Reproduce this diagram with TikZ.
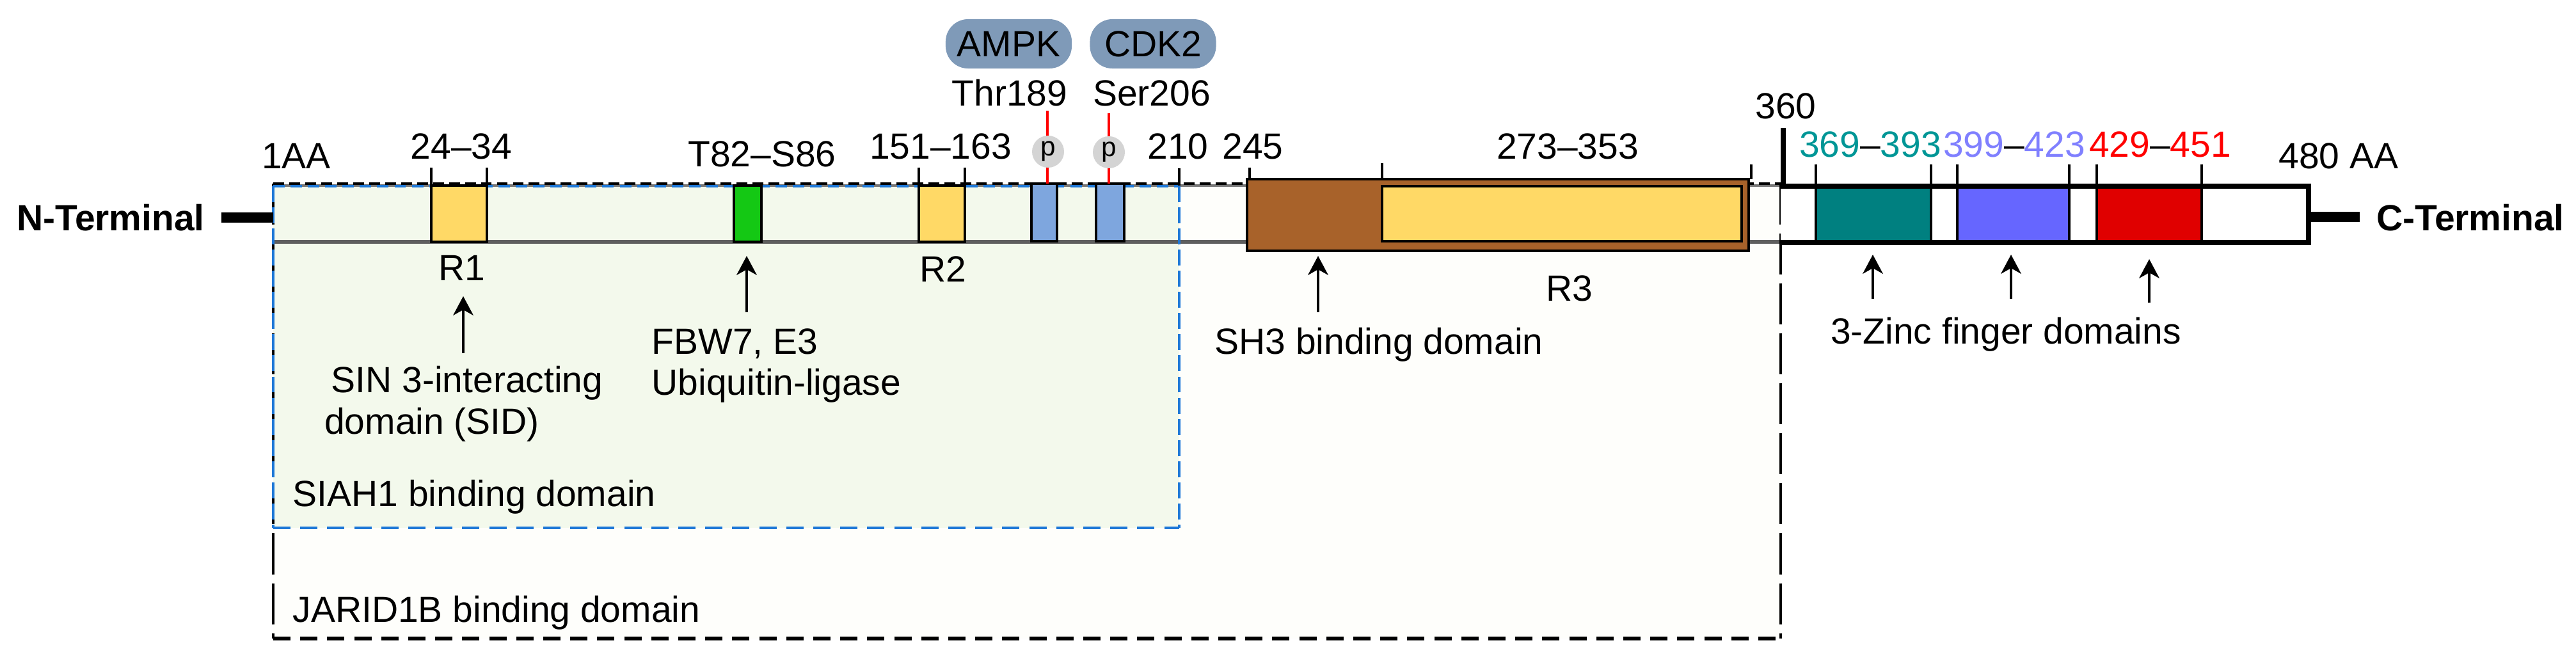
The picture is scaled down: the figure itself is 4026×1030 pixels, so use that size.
\documentclass[tikz,border=0pt]{standalone}
\usepackage{fontspec}
\setmainfont{Liberation Sans}
\usetikzlibrary{arrows.meta}
\definecolor{jarfill}{RGB}{254,254,251}
\definecolor{siahfill}{RGB}{243,249,236}
\definecolor{siahblue}{RGB}{30,120,215}
\definecolor{bargray}{RGB}{95,95,95}
\definecolor{bartop}{RGB}{120,120,120}
\definecolor{yel}{RGB}{255,217,102}
\definecolor{grn}{RGB}{20,200,20}
\definecolor{lblue}{RGB}{126,166,222}
\definecolor{brn}{RGB}{168,98,42}
\definecolor{tealbox}{RGB}{0,128,128}
\definecolor{tealtxt}{RGB}{0,150,150}
\definecolor{purbox}{RGB}{102,102,255}
\definecolor{purtxt}{RGB}{128,128,255}
\definecolor{redbox}{RGB}{224,0,0}
\definecolor{redtxt}{RGB}{255,0,0}
\definecolor{pillc}{RGB}{127,154,184}
\definecolor{pgray}{RGB}{212,212,212}
\begin{document}
\begin{tikzpicture}[x=0.01cm,y=-0.01cm,
  every node/.style={inner sep=0pt},
  lbl/.style={font=\fontsize{16.2}{19}\selectfont, anchor=base},
  lblw/.style={font=\fontsize{16.2}{19}\selectfont, anchor=base west},
  boldlbl/.style={font=\fontsize{16.2}{19}\selectfont\bfseries, anchor=base},
  tickl/.style={line width=1.4pt},
  arr/.style={line width=1.1pt, -{Stealth[length=8.5pt,width=9pt,inset=2.5pt]}},
  dom/.style={draw=black, line width=1.3pt},
  pill/.style={fill=pillc, rounded corners=0.35cm, minimum width=1.97cm, minimum height=0.77cm, font=\fontsize{16.2}{19}\selectfont},
  pcirc/.style={circle, fill=pgray, minimum size=0.5cm, font=\fontsize{12}{14}\selectfont},
  redl/.style={draw=red, line width=1.1pt},
  termline/.style={line width=4.3pt},
  jarh/.style={line width=1.1pt, dash pattern=on 4.8pt off 2.3pt},
  jarb/.style={line width=1.7pt, dash pattern=on 7.7pt off 4.3pt},
  jarv/.style={line width=1.1pt, dash pattern=on 18.2pt off 4pt},
  siahh/.style={draw=siahblue, line width=1.1pt, dash pattern=on 5.1pt off 2.6pt},
  siahb/.style={draw=siahblue, line width=1.4pt, dash pattern=on 7.7pt off 4.3pt},
  siahv/.style={draw=siahblue, line width=1.1pt, dash pattern=on 7.1pt off 2.3pt}
]
\useasboundingbox (0,0) rectangle (4026,1030);
% background regions
\fill[jarfill] (427,287) rectangle (2783,998);
\fill[siahfill] (427,291) rectangle (1843,825);
% main bar lines
\draw[bartop, line width=1.1pt] (427,290) -- (2783,290);
\draw[bargray, line width=1.8pt] (427,378) -- (2783,378);
% JARID1B dashed box
\draw[jarh] (427,287) -- (2783,287);
\draw[jarb] (427,998) -- (2783,998);
\draw[jarv] (427,287) -- (427,998);
\draw[jarv] (2783,287) -- (2783,998);
% SIAH1 dashed box
\draw[siahh] (427,291) -- (1843,291);
\draw[siahb] (427,825) -- (1843,825);
\draw[siahv] (427,291) -- (427,825);
\draw[siahv] (1843,291) -- (1843,825);
% terminal lines
\coordinate (nl) at (346,340);
\coordinate (nr) at (427,340);
\draw[termline] (nl) -- (nr);
\coordinate (cl) at (3608,339);
\coordinate (cr) at (3688,339);
\draw[termline] (cl) -- (cr);
% domain boxes left part
\draw[dom, fill=yel] (674,290) rectangle (761,378);
\draw[dom, fill=grn] (1147,290) rectangle (1190,378);
\draw[dom, fill=yel] (1436,290) rectangle (1508,378);
\draw[dom, fill=lblue] (1612,287) rectangle (1652,377);
\draw[dom, fill=lblue] (1713,287) rectangle (1757,377);
% ticks
\draw[tickl] (674,262) -- (674,290);
\draw[tickl] (761,262) -- (761,290);
\draw[tickl] (1436,262) -- (1436,290);
\draw[tickl] (1508,262) -- (1508,290);
\draw[tickl] (1843,263) -- (1843,290);
\draw[tickl] (1953,262) -- (1953,280);
\draw[tickl] (2160,255) -- (2160,280);
\draw[tickl] (2737,257) -- (2737,280);
% brown SH3 / R3 box
\draw[dom, fill=brn] (1949,280) rectangle (2733,392);
\draw[dom, fill=yel] (2160,291) rectangle (2722,377);
% right box
\fill[white] (2783,291) rectangle (3608,379);
\draw[dom, fill=tealbox] (2838,291) rectangle (3018,379);
\draw[dom, fill=purbox] (3059,291) rectangle (3234,379);
\draw[dom, fill=redbox] (3277,291) rectangle (3441,379);
\draw[line width=2.3pt] (2783,291) -- (3608,291) -- (3608,379) -- (2783,379);
\draw[line width=2.3pt] (2787,200) -- (2787,291);
\foreach \xx in {2838,3018,3059,3234,3277,3441}{\draw[tickl] (\xx,257) -- (\xx,291);}
% phosphorylation sites
\coordinate (t1) at (1637,173);
\coordinate (b1) at (1637,287);
\coordinate (t2) at (1733,177);
\coordinate (b2) at (1733,287);
\draw[redl] (t1) -- (b1);
\draw[redl] (t2) -- (b2);
\node[pcirc] (p1) at (1638,237) {p};
\node[pcirc] (p2) at (1733,238) {p};
\node[pill] (ampk) at (1576.5,68.5) {AMPK};
\node[pill] (cdk2) at (1802,68.5) {CDK2};
\node[lbl] (thr) at (1578,165) {Thr189};
\node[lbl] (ser) at (1800,165) {Ser206};
% position labels
\node[lbl] (l1aa) at (463,263) {1AA};
\node[lbl] (l24) at (721,248) {24--34};
\node[lbl] (l82) at (1191,260) {T82--S86};
\node[lbl] (l151) at (1470,248) {151--163};
\node[lbl] (l210) at (1841,248) {210};
\node[lbl] (l245) at (1958,248) {245};
\node[lbl] (l273) at (2450,248) {273--353};
\node[lbl] (l360) at (2791,185) {360};
\node[lbl] (l369) at (2923,245) {\textcolor{tealtxt}{369}--\textcolor{tealtxt}{393}};
\node[lbl] (l399) at (3148,245) {\textcolor{purtxt}{399}--\textcolor{purtxt}{423}};
\node[lbl] (l429) at (3376,245) {\textcolor{redtxt}{429}--\textcolor{redtxt}{451}};
\node[lbl] (l480) at (3655,263) {480 AA};
\node[boldlbl] (nterm) at (173,360) {N-Terminal};
\node[boldlbl] (cterm) at (3861,360) {C-Terminal};
% region labels
\node[lbl] (r1) at (722,438) {R1};
\node[lbl] (r2) at (1474,440) {R2};
\node[lbl] (r3) at (2453,470) {R3};
\node[lbl] (sin1) at (730,613) {SIN 3-interacting};
\node[lbl] (sin2) at (675,678) {domain (SID)};
\node[lblw] (fbw1) at (1018,553) {FBW7, E3};
\node[lblw] (fbw2) at (1018,617) {Ubiquitin-ligase};
\node[lbl] (sh3) at (2155,553) {SH3 binding domain};
\node[lbl] (zinc) at (3135,537) {3-Zinc finger domains};
\node[lblw] (siah) at (457,791) {SIAH1 binding domain};
\node[lblw] (jarid) at (457,972) {JARID1B binding domain};
% arrows
\coordinate (a1s) at (724,552); \coordinate (a1e) at (724,463);
\coordinate (a2s) at (1167,488); \coordinate (a2e) at (1167,400);
\coordinate (a3s) at (2060,488); \coordinate (a3e) at (2060,400);
\coordinate (a4s) at (2927,467); \coordinate (a4e) at (2927,398);
\coordinate (a5s) at (3143,467); \coordinate (a5e) at (3143,398);
\coordinate (a6s) at (3359,473); \coordinate (a6e) at (3359,405);
\draw[arr] (a1s) -- (a1e);
\draw[arr] (a2s) -- (a2e);
\draw[arr] (a3s) -- (a3e);
\draw[arr] (a4s) -- (a4e);
\draw[arr] (a5s) -- (a5e);
\draw[arr] (a6s) -- (a6e);
\end{tikzpicture}
\end{document}
